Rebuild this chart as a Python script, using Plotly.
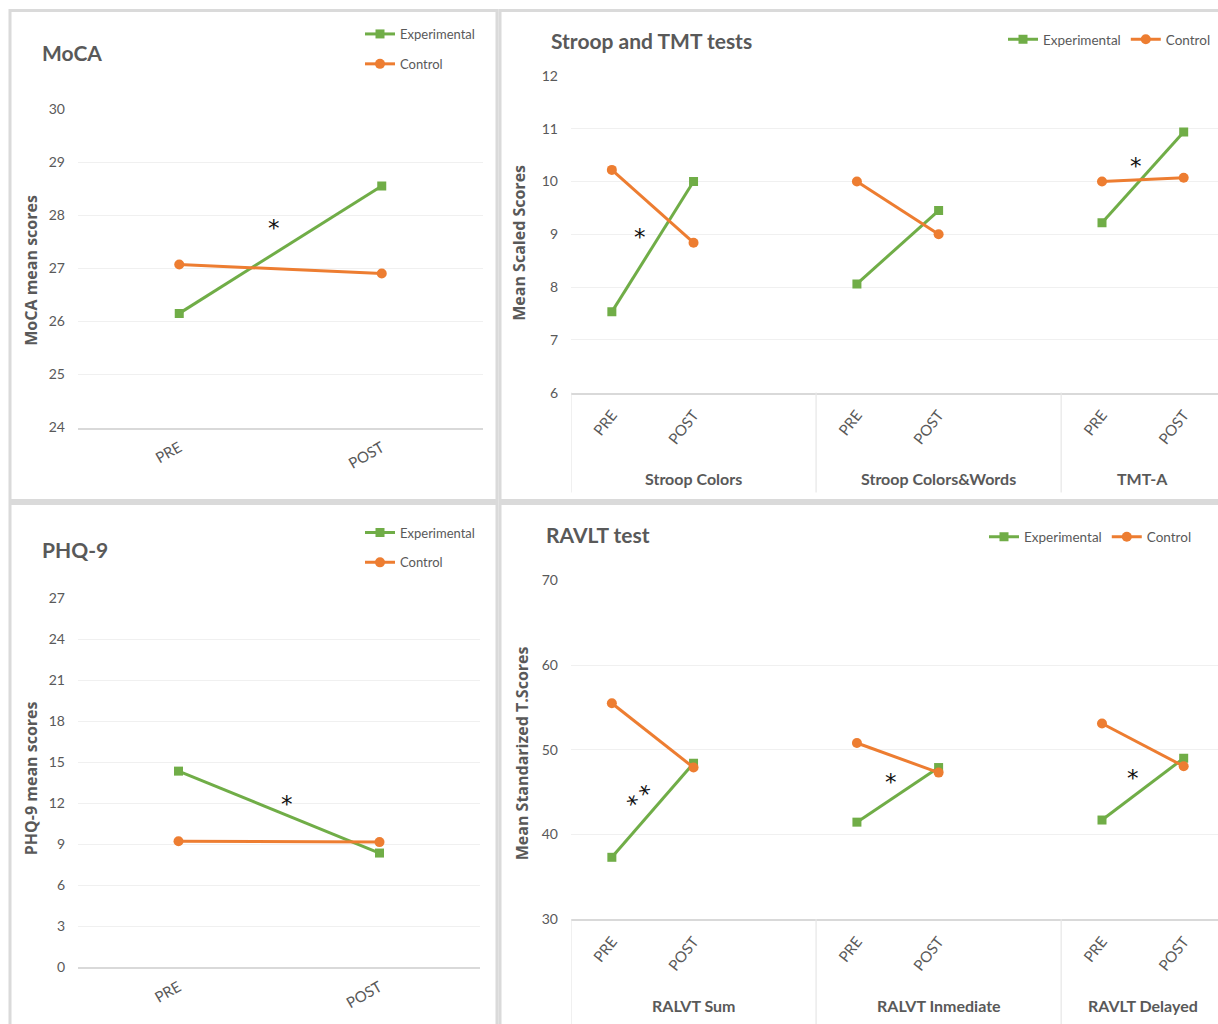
import plotly.graph_objects as go

W, H = 1218, 1024

# ---------------- data ----------------
time_labels = ["PRE", "POST"]

moca_exp = [26.15, 28.55]
moca_ctl = [27.07, 26.90]

phq_exp = [14.35, 8.35]
phq_ctl = [9.22, 9.15]

stroop_groups = ["Stroop Colors", "Stroop Colors&Words", "TMT-A"]
stroop_exp_pre = [7.53, 8.06, 9.22]
stroop_exp_post = [10.00, 9.45, 10.94]
stroop_ctl_pre = [10.22, 10.00, 10.00]
stroop_ctl_post = [8.84, 9.00, 10.07]

ravlt_groups = ["RALVT Sum", "RALVT Inmediate", "RAVLT Delayed"]
ravlt_exp_pre = [37.3, 41.45, 41.7]
ravlt_exp_post = [48.4, 47.9, 49.0]
ravlt_ctl_pre = [55.5, 50.8, 53.1]
ravlt_ctl_post = [47.9, 47.3, 48.05]

GREEN = "#70AD47"
ORANGE = "#ED7D31"
TXT = "#595959"
GRID = "#f0f0f0"
AXL = "#d9d9d9"
BORDER = "#dadada"
FONT = "Lato, 'Open Sans', sans-serif"

# the photographed page shows the figure slightly squeezed vertically; map target pixel rows
VS, VO = 1008 / 1024, 8


def px(x):
    return x / W


def py(y):
    return 1 - ((y - VO) / VS) / H


def grouped(pre, post):
    xs, ys = [], []
    for i, (a, b) in enumerate(zip(pre, post)):
        if i:
            xs.append(None)
            ys.append(None)
        xs += [3 * i, 3 * i + 1]
        ys += [a, b]
    return xs, ys


fig = go.Figure()

exp_style = dict(mode="lines+markers", line=dict(color=GREEN, width=3),
                 marker=dict(symbol="square", size=9, color=GREEN))
ctl_style = dict(mode="lines+markers", line=dict(color=ORANGE, width=3),
                 marker=dict(symbol="circle", size=10, color=ORANGE))

# MoCA (x, y)
fig.add_trace(go.Scatter(x=[0, 1], y=moca_exp, name="Experimental", xaxis="x", yaxis="y",
                         legend="legend", legendgroup="e1", **exp_style))
fig.add_trace(go.Scatter(x=[0, 1], y=moca_ctl, name="Control", xaxis="x", yaxis="y",
                         legend="legend", legendgroup="c1", **ctl_style))
# Stroop (x2, y2)
xs, ys = grouped(stroop_exp_pre, stroop_exp_post)
fig.add_trace(go.Scatter(x=xs, y=ys, name="Experimental", xaxis="x2", yaxis="y2",
                         legend="legend2", **exp_style))
xs, ys = grouped(stroop_ctl_pre, stroop_ctl_post)
fig.add_trace(go.Scatter(x=xs, y=ys, name="Control", xaxis="x2", yaxis="y2",
                         legend="legend2", **ctl_style))
# PHQ-9 (x3, y3)
fig.add_trace(go.Scatter(x=[0, 1], y=phq_exp, name="Experimental", xaxis="x3", yaxis="y3",
                         legend="legend3", legendgroup="e3", **exp_style))
fig.add_trace(go.Scatter(x=[0, 1], y=phq_ctl, name="Control", xaxis="x3", yaxis="y3",
                         legend="legend3", legendgroup="c3", **ctl_style))
# RAVLT (x4, y4)
xs, ys = grouped(ravlt_exp_pre, ravlt_exp_post)
fig.add_trace(go.Scatter(x=xs, y=ys, name="Experimental", xaxis="x4", yaxis="y4",
                         legend="legend4", **exp_style))
xs, ys = grouped(ravlt_ctl_pre, ravlt_ctl_post)
fig.add_trace(go.Scatter(x=xs, y=ys, name="Control", xaxis="x4", yaxis="y4",
                         legend="legend4", **ctl_style))

tickfont = dict(family=FONT, size=14, color=TXT)
xtickfont = dict(family=FONT, size=15, color=TXT)


def yax(dom, rng, dtick, anchor):
    return dict(domain=dom, range=rng, dtick=dtick, tick0=rng[0], showgrid=True, gridcolor=GRID,
                gridwidth=1, zeroline=False, showline=False, tickfont=tickfont, anchor=anchor,
                ticks="", ticklabelstandoff=12, fixedrange=True)


def xax_simple(dom, anchor):
    return dict(domain=dom, range=[-0.5, 1.5], tickvals=[0, 1], ticktext=time_labels,
                tickangle=-30, showgrid=False, zeroline=False, showline=True, linecolor=AXL,
                linewidth=1.5, tickfont=xtickfont, anchor=anchor, ticks="", fixedrange=True,
                ticklabelstandoff=4)


def xax_group(dom, anchor, n):
    tv = [3 * i + k for i in range(n) for k in (0, 1)]
    tt = [time_labels[k] for i in range(n) for k in (0, 1)]
    return dict(domain=dom, range=[-0.5, 7.42], tickvals=tv, ticktext=tt, tickangle=-52,
                showgrid=False, zeroline=False, showline=True, linecolor=AXL, linewidth=1.5,
                tickfont=xtickfont, anchor=anchor, ticks="", fixedrange=True,
                ticklabelstandoff=6)


layout = dict(
    width=W, height=H, margin=dict(l=0, r=0, t=0, b=0),
    paper_bgcolor="white", plot_bgcolor="white",
    font=dict(family=FONT, color=TXT),
    xaxis=xax_simple([px(78), px(483)], "y"),
    yaxis=yax([py(427), py(108)], [24, 30], 1, "x"),
    xaxis2=xax_group([px(571), 1.0], "y2", len(stroop_groups)),
    yaxis2=yax([py(392), py(75)], [6, 12], 1, "x2"),
    xaxis3=xax_simple([px(78), px(480)], "y3"),
    yaxis3=yax([py(967), py(598)], [0, 27], 3, "x3"),
    xaxis4=xax_group([px(571), 1.0], "y4", len(ravlt_groups)),
    yaxis4=yax([py(919), py(580)], [30, 70], 10, "x4"),
)

legfont = dict(family=FONT, size=13, color=TXT)
legfont_r = dict(family=FONT, size=13.5, color=TXT)
layout["legend"] = dict(x=px(360), y=py(18), xanchor="left", yanchor="top", orientation="v",
                        font=legfont, bgcolor="rgba(0,0,0,0)", tracegroupgap=10, itemwidth=30)
layout["legend3"] = dict(x=px(360), y=py(517), xanchor="left", yanchor="top", orientation="v",
                         font=legfont, bgcolor="rgba(0,0,0,0)", tracegroupgap=10, itemwidth=30)
layout["legend2"] = dict(x=px(1003), y=py(23), xanchor="left", yanchor="top", orientation="h",
                         font=legfont_r, bgcolor="rgba(0,0,0,0)", itemwidth=30)
layout["legend4"] = dict(x=px(984), y=py(521), xanchor="left", yanchor="top", orientation="h",
                         font=legfont_r, bgcolor="rgba(0,0,0,0)", itemwidth=30)

fig.update_layout(**layout)

# panel borders
shapes = []
for (x0, y0, x1, y1) in [(10, 9.5, 497, 500), (500, 9.5, 1222, 500),
                         (10, 503, 497, 1040), (500, 503, 1222, 1040)]:
    shapes.append(dict(type="rect", xref="paper", yref="paper", x0=px(x0), x1=px(x1),
                       y0=py(y1), y1=py(y0), line=dict(color=BORDER, width=3), layer="below"))
# group separators
for xa, ya, ytop, ybot in [("x2", "y2", 392, 492), ("x4", "y4", 919, 1024)]:
    for s in (-0.5, 2.5, 5.5):
        shapes.append(dict(type="line", xref=xa, yref="paper", x0=s, x1=s,
                           y0=py(ybot), y1=py(ytop), line=dict(color="#e6e6e6", width=1.2)))
fig.update_layout(shapes=shapes)

ann = []
# titles
for txt, x, y in [("MoCA", 40, 52), ("Stroop and TMT tests", 549, 40),
                  ("PHQ-9", 40, 549), ("RAVLT test", 544, 534)]:
    ann.append(dict(text=txt, x=px(x), y=py(y), xref="paper", yref="paper", xanchor="left",
                    yanchor="middle", showarrow=False,
                    font=dict(family=FONT, size=21, color=TXT, weight="bold")))
# y-axis titles
for txt, x, y in [("MoCA mean scores", 31, 270), ("Mean Scaled Scores", 519, 242),
                  ("PHQ-9 mean scores", 31, 778), ("Mean Standarized T.Scores", 522, 753)]:
    ann.append(dict(text=txt, x=px(x), y=py(y), xref="paper", yref="paper", textangle=-90,
                    showarrow=False, xanchor="center", yanchor="middle",
                    font=dict(family="'Open Sans', sans-serif", size=16, color=TXT, weight="bold")))
# group labels
for groups, xa, yy in [(stroop_groups, "x2", 478), (ravlt_groups, "x4", 1005)]:
    for i, g in enumerate(groups):
        cx = 3 * i + 1 if i < len(groups) - 1 else 3 * i + 0.5
        ann.append(dict(text=g, x=cx, y=py(yy), xref=xa, yref="paper", showarrow=False,
                        xanchor="center", yanchor="middle",
                        font=dict(family=FONT, size=16, color=TXT, weight="bold")))
# significance stars
star = dict(family="DejaVu Sans, sans-serif", size=23, color="#111111")
for txt, xa, ya, x, y, ang in [("*", "x", "y", 0.47, 27.75, 0), ("*", "x2", "y2", 0.34, 8.95, 0),
                               ("*", "x2", "y2", 6.42, 10.3, 0), ("*", "x3", "y3", 0.54, 11.95, 0),
                               ("*\u2009*", "x4", "y4", 0.36, 44.3, -40), ("*", "x4", "y4", 3.42, 46.2, 0),
                               ("*", "x4", "y4", 6.38, 46.7, 0)]:
    ann.append(dict(text=txt, x=x, y=y, xref=xa, yref=ya, showarrow=False, textangle=ang,
                    xanchor="center", yanchor="middle", font=star))
fig.update_layout(annotations=ann)

post = ("document.documentElement.style.margin='0';document.documentElement.style.padding='0';"
        "document.body.style.margin='0';document.body.style.padding='0';"
        "document.documentElement.style.overflow='hidden';document.body.style.overflow='hidden';"
        "document.body.style.height='1024px';")
fig.write_html("out.html", config={"displayModeBar": False}, post_script=post)
